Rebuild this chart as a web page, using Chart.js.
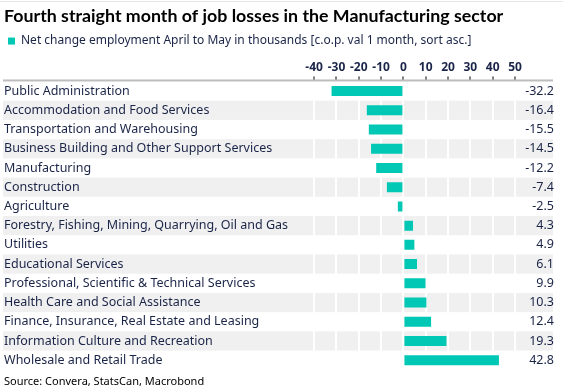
<!DOCTYPE html>
<html>
<head>
<meta charset="utf-8">
<script src="https://cdn.jsdelivr.net/npm/chart.js@4/dist/chart.umd.min.js"></script>
<style>
html,body{margin:0;padding:0;background:#fff;}
#wrap{width:563px;height:392px;position:relative;}
</style>
</head>
<body>
<div id="wrap"><canvas id="c" width="563" height="392"></canvas></div>
<script>
const categories = [
  "Public Administration",
  "Accommodation and Food Services",
  "Transportation and Warehousing",
  "Business Building and Other Support Services",
  "Manufacturing",
  "Construction",
  "Agriculture",
  "Forestry, Fishing, Mining, Quarrying, Oil and Gas",
  "Utilities",
  "Educational Services",
  "Professional, Scientific & Technical Services",
  "Health Care and Social Assistance",
  "Finance, Insurance, Real Estate and Leasing",
  "Information Culture and Recreation",
  "Wholesale and Retail Trade"
];
const values = [-32.2, -16.4, -15.5, -14.5, -12.2, -7.4, -2.5, 4.3, 4.9, 6.1, 9.9, 10.3, 12.4, 19.3, 42.8];
const valueLabels = values.map(v => v.toFixed(1));
const xTickValues = [-40, -30, -20, -10, 0, 10, 20, 30, 40, 50];
const seriesName = "Net change employment April to May in thousands [c.o.p. val 1 month, sort asc.]";
const titleText = "Fourth straight month of job losses in the Manufacturing sector";
const sourceText = "Source: Convera, StatsCan, Macrobond";

const FONT = "'Noto Sans', 'Open Sans', sans-serif";
const TITLE_FONT = "Lato, 'Noto Sans', sans-serif";
const TEXT = "#1a2447";
const TEAL = "#00c8b4";
const BAND = "#f0f0f0";

const bandsPlugin = {
  id: 'bands',
  beforeDraw(chart) {
    const ctx = chart.ctx;
    const y = chart.scales.y, y2 = chart.scales.y2;
    const left = y.left - 1, right = y2.right - 1;
    const half = (y.getPixelForValue(1) - y.getPixelForValue(0)) / 2;
    ctx.save();
    ctx.fillStyle = "#e6e6e6";
    ctx.fillRect(0, 1, chart.width, 1);
    ctx.fillStyle = BAND;
    for (let i = 1; i < categories.length; i += 2) {
      const c = y.getPixelForValue(i);
      ctx.fillRect(left, c - half, right - left, 2 * half);
    }
    ctx.restore();
  },
  afterDatasetsDraw(chart) {
    const ctx = chart.ctx;
    const y = chart.scales.y, y2 = chart.scales.y2;
    ctx.save();
    ctx.fillStyle = "#bdbdbd";
    ctx.fillRect(y.left - 1, chart.chartArea.top - 2, y2.right - y.left, 2);
    ctx.restore();
  }
};

new Chart(document.getElementById('c'), {
  type: 'bar',
  data: {
    labels: categories,
    datasets: [{
      label: seriesName,
      data: values,
      backgroundColor: TEAL,
      borderWidth: 0,
      barPercentage: 0.65,
      categoryPercentage: 0.8,
      yAxisID: 'y'
    }]
  },
  options: {
    indexAxis: 'y',
    responsive: false,
    animation: false,
    layout: { padding: { left: 4, right: 9, top: 0, bottom: 4 } },
    scales: {
      x: {
        position: 'top',
        min: -45,
        max: 50,
        afterBuildTicks(scale) { scale.ticks = xTickValues.map(v => ({ value: v })); },
        afterFit(scale) { scale.height = 24.4; },
        ticks: {
          autoSkip: false,
          maxRotation: 0,
          padding: 2,
          color: TEXT,
          font: { family: FONT, size: 12, weight: 'bold' }
        },
        grid: {
          color: '#ffffff',
          lineWidth: 2,
          tickColor: '#000000',
          tickLength: 5,
          tickWidth: 1
        },
        border: { display: false }
      },
      y: {
        position: 'left',
        afterFit(scale) { scale.width = 299; },
        ticks: {
          crossAlign: 'far',
          color: TEXT,
          autoSkip: false,
          padding: 0,
          font: { family: FONT, size: 12.5 }
        },
        grid: { display: false },
        border: { display: false }
      },
      y2: {
        type: 'category',
        axis: 'y',
        position: 'right',
        labels: valueLabels,
        offset: true,
        afterFit(scale) { scale.width = 39; },
        ticks: {
          crossAlign: 'far',
          color: TEXT,
          autoSkip: false,
          padding: 0,
          font: { family: FONT, size: 12.5 }
        },
        grid: { display: false },
        border: { display: false }
      }
    },
    plugins: {
      title: {
        display: true,
        text: titleText,
        align: 'start',
        color: '#000000',
        font: { family: TITLE_FONT, size: 17.8, weight: 'bold', lineHeight: 1.2 },
        padding: { top: 6, bottom: 3.7 }
      },
      legend: {
        display: true,
        align: 'start',
        labels: {
          boxWidth: 7,
          boxHeight: 7,
          padding: 4,
          color: TEXT,
          font: { family: FONT, size: 12 }
        }
      },
      subtitle: {
        display: true,
        text: sourceText,
        position: 'bottom',
        align: 'start',
        color: '#000000',
        font: { family: FONT, size: 11 },
        padding: { top: 5, bottom: 0 }
      },
      tooltip: { enabled: false }
    }
  },
  plugins: [bandsPlugin]
});
</script>
</body>
</html>
